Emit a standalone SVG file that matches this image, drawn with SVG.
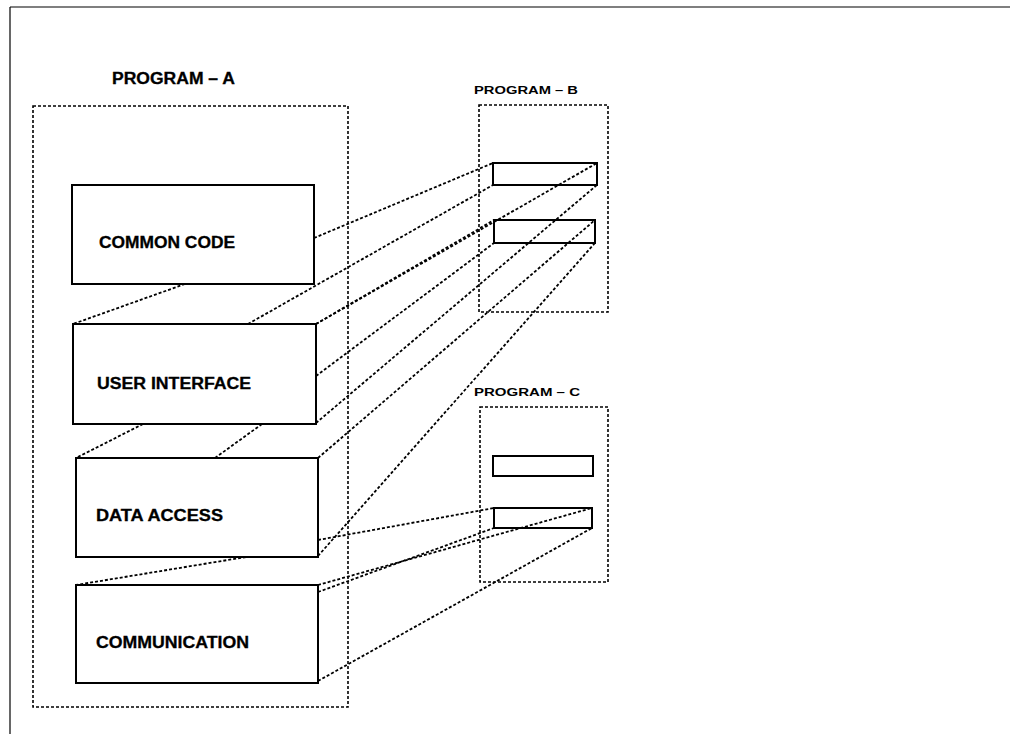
<svg xmlns="http://www.w3.org/2000/svg" width="1010" height="734" viewBox="0 0 1010 734">
  <style>
    .frame { stroke: #000; stroke-width: 1.2; fill: none; }
    .prog { fill: none; stroke: #000; stroke-width: 1.6; stroke-dasharray: 3 2; }
    .box { fill: #fff; stroke: #000; stroke-width: 2; }
    .slot { fill: none; stroke: #000; stroke-width: 2; }
    .link { stroke: #000; stroke-width: 1.8; stroke-dasharray: 3 2; fill: none; }
    .title { font-family: "Liberation Sans", Arial, Helvetica, sans-serif; font-weight: bold; fill: #000; }
    .lbl { font-family: "Liberation Sans", Arial, Helvetica, sans-serif; font-weight: bold; font-size: 16px; fill: #000; stroke: #000; stroke-width: 0.3; }
  </style>
  <rect width="1010" height="734" fill="#fff"/>

  <!-- page frame (top and left edges) -->
  <g id="frame">
    <line class="frame" x1="10" y1="7" x2="1010" y2="7"/>
    <line class="frame" x1="10" y1="7" x2="10" y2="734"/>
  </g>

  <!-- Program A container -->
  <g id="program-a">
    <text class="title" x="112" y="84" font-size="16" textLength="123" lengthAdjust="spacingAndGlyphs" stroke="#000" stroke-width="0.3">PROGRAM – A</text>
    <rect class="prog" x="33" y="106" width="315" height="601"/>
  </g>

  <!-- Program B container -->
  <g id="program-b">
    <text class="title" x="474" y="94" font-size="11.5" textLength="104" lengthAdjust="spacingAndGlyphs">PROGRAM – B</text>
    <rect class="prog" x="479" y="105" width="129" height="207"/>
  </g>

  <!-- Program C container -->
  <g id="program-c">
    <text class="title" x="474" y="396" font-size="11.5" textLength="106" lengthAdjust="spacingAndGlyphs">PROGRAM – C</text>
    <rect class="prog" x="480" y="407" width="128" height="175"/>
  </g>

  <!-- connectors -->
  <g id="connectors">
    <!-- between the layers of Program A -->
    <line class="link" x1="185" y1="284" x2="73" y2="324"/>
    <line class="link" x1="143" y1="424" x2="76" y2="458"/>
    <line class="link" x1="262" y1="424" x2="215" y2="458"/>
    <line class="link" x1="246" y1="557" x2="76" y2="585"/>
    <!-- Program A to Program B -->
    <line class="link" x1="314" y1="238" x2="493" y2="163"/>
    <line class="link" x1="248" y1="324" x2="493" y2="185"/>
    <line class="link" x1="316" y1="324" x2="597" y2="163"/>
    <line class="link" x1="316" y1="324" x2="494" y2="220"/>
    <line class="link" x1="316" y1="376" x2="494" y2="243"/>
    <line class="link" x1="316" y1="423" x2="597" y2="185"/>
    <line class="link" x1="318" y1="458" x2="595" y2="220"/>
    <line class="link" x1="318" y1="556" x2="595" y2="243"/>
    <!-- Program A to Program C -->
    <line class="link" x1="318" y1="540" x2="494" y2="508"/>
    <line class="link" x1="318" y1="585" x2="592" y2="508"/>
    <line class="link" x1="318" y1="592" x2="494" y2="528"/>
    <line class="link" x1="318" y1="681" x2="592" y2="528"/>
  </g>

  <g id="common-code">
    <rect class="box" x="72" y="185" width="242" height="99"/>
    <text class="lbl" x="99" y="248" textLength="136" lengthAdjust="spacingAndGlyphs">COMMON CODE</text>
  </g>
  <g id="user-interface">
    <rect class="box" x="73" y="324" width="243" height="100"/>
    <text class="lbl" x="97" y="389" textLength="154" lengthAdjust="spacingAndGlyphs">USER INTERFACE</text>
  </g>
  <g id="data-access">
    <rect class="box" x="76" y="458" width="242" height="99"/>
    <text class="lbl" x="96" y="521" textLength="127" lengthAdjust="spacingAndGlyphs">DATA ACCESS</text>
  </g>
  <g id="communication">
    <rect class="box" x="76" y="585" width="242" height="98"/>
    <text class="lbl" x="96" y="648" textLength="153" lengthAdjust="spacingAndGlyphs">COMMUNICATION</text>
  </g>

  <g id="program-b-slot-1">
    <rect class="slot" x="493" y="163" width="104" height="22"/>
  </g>
  <g id="program-b-slot-2">
    <rect class="slot" x="494" y="220" width="101" height="23"/>
  </g>
  <g id="program-c-slot-1">
    <rect class="slot" x="493" y="456" width="100" height="20" stroke-width="1.6"/>
  </g>
  <g id="program-c-slot-2">
    <rect class="slot" x="494" y="508" width="98" height="20"/>
  </g>
</svg>
